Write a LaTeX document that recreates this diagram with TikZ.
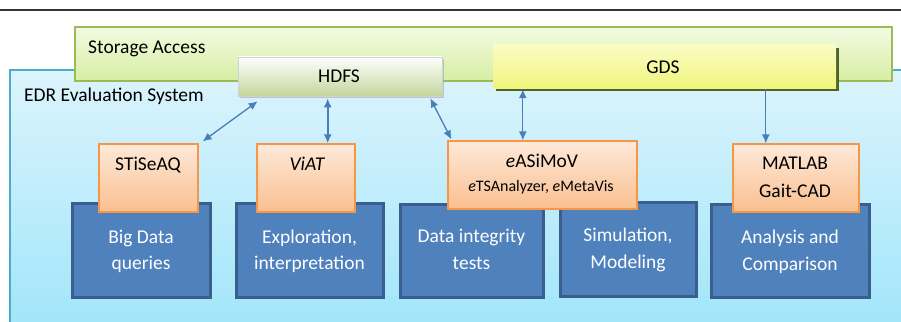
\documentclass[tikz,border=0pt]{standalone}
\usepackage{fontspec}
\setmainfont{Carlito}
\usetikzlibrary{arrows.meta,shadows,calc}

\definecolor{rulegray}{HTML}{333333}
\definecolor{edrline}{HTML}{4BACC6}
\definecolor{edrtop}{HTML}{DCF4FC}
\definecolor{edrbot}{HTML}{9EE5FA}
\definecolor{storline}{HTML}{9BBB59}
\definecolor{stortop}{HTML}{F3FBE2}
\definecolor{storbot}{HTML}{D6EEA2}
\definecolor{hdfsbot}{HTML}{C3D69B}
\definecolor{gdstop}{HTML}{FAFCC4}
\definecolor{gdsbot}{HTML}{F0F57C}
\definecolor{gdsshadow}{HTML}{4F6228}
\definecolor{blockfill}{HTML}{4F81BD}
\definecolor{blockline}{HTML}{3A5F8F}
\definecolor{tooltop}{HTML}{FDE9D9}
\definecolor{toolbot}{HTML}{FABF8F}
\definecolor{toolline}{HTML}{F79646}
\definecolor{linkcol}{HTML}{4A7EBB}

\tikzset{
  textsize/.style={font=\fontsize{19.5}{23}\selectfont},
  label text/.style={textsize, anchor=base, inner sep=0pt},
  white text/.style={label text, text=white},
  areabox/.style={rectangle, inner sep=0pt, line width=1.5pt},
  blockbox/.style={rectangle, inner sep=0pt, fill=blockfill, draw=blockline, line width=3pt},
  toolbox/.style={rectangle, inner sep=0pt, top color=tooltop, bottom color=toolbot, draw=toolline, line width=1.2pt},
  link/.style={draw=linkcol, line width=1.3pt, {Latex[length=9pt,width=8pt]}-{Latex[length=9pt,width=8pt]}},
  onelink/.style={draw=linkcol, line width=1.3pt, -{Latex[length=9pt,width=8pt]}},
}

\begin{document}
\begin{tikzpicture}[x=1pt,y=-1pt]
\useasboundingbox (0,0) rectangle (901,321);
\clip (0,0) rectangle (901,321);
\fill[white] (0,0) rectangle (901,321);

% page rule
\coordinate (ruleL) at (0,10);
\coordinate (ruleR) at (901,10);
\draw[rulegray, line width=2pt] (ruleL) -- (ruleR);

% evaluation system area
\node[areabox, top color=edrtop, bottom color=edrbot, draw=edrline,
      minimum width=900pt, minimum height=270pt] (edr) at (460,205) {};

% storage access layer
\node[areabox, top color=stortop, bottom color=storbot, draw=storline,
      minimum width=817pt, minimum height=54pt] (storage) at (483.5,54) {};
\node[label text, anchor=base west] (storagetxt) at (88,53) {Storage Access};
\node[label text, anchor=base west] (edrtxt) at (24,101) {EDR Evaluation System};

% storage back-ends
\node[rectangle, inner sep=0pt, top color=white, bottom color=hdfsbot,
      draw=gray!35, line width=0.6pt,
      drop shadow={shadow xshift=2pt, shadow yshift=-2pt, fill=gray!70, opacity=0.6},
      minimum width=204pt, minimum height=39pt] (hdfs) at (340,76.5) {};
\node[label text] (hdfstxt) at (339,82) {HDFS};

\node[rectangle, inner sep=0pt, top color=gdstop, bottom color=gdsbot,
      drop shadow={shadow xshift=3pt, shadow yshift=-3pt, fill=gdsshadow, opacity=1},
      minimum width=343pt, minimum height=43pt] (gds) at (664.5,66.5) {};
\node[label text] (gdstxt) at (663,73) {GDS};

% task blocks
\node[blockbox, minimum width=138pt, minimum height=94pt] (bigdata) at (141,250) {};
\node[white text] (bd1) at (141,243) {Big Data};
\node[white text] (bd2) at (141,269) {queries};

\node[blockbox, minimum width=147pt, minimum height=94pt] (explore) at (309.5,250) {};
\node[white text] (ex1) at (309.5,243) {Exploration,};
\node[white text] (ex2) at (309.5,269) {interpretation};

\node[blockbox, minimum width=143pt, minimum height=93pt] (integrity) at (471.5,251) {};
\node[white text] (in1) at (471.5,242) {Data integrity};
\node[white text] (in2) at (471.5,269) {tests};

\node[blockbox, minimum width=136pt, minimum height=94pt] (simul) at (628,249) {};
\node[white text] (si1) at (628,241) {Simulation,};
\node[white text] (si2) at (628,268) {Modeling};

\node[blockbox, minimum width=158pt, minimum height=93pt] (analysis) at (790,251) {};
\node[white text] (an1) at (790,243) {Analysis and};
\node[white text] (an2) at (790,270) {Comparison};

% tools
\node[toolbox, minimum width=99pt, minimum height=68pt] (stis) at (148.5,178) {};
\node[label text] (stistxt) at (148,170) {STiSeAQ};

\node[toolbox, minimum width=98pt, minimum height=68pt] (viat) at (306,178) {};
\node[label text] (viattxt) at (307,170) {\itshape ViAT};

\node[toolbox, minimum width=189pt, minimum height=68pt] (easimov) at (542.5,175) {};
\node[label text] (easimovtxt) at (542,167) {\textit{e}ASiMoV};
\node[label text, font=\fontsize{16}{19}\selectfont] (easimovsub) at (541,191)
  {\textit{e}TSAnalyzer, \textit{e}MetaVis};

\node[toolbox, minimum width=126pt, minimum height=68pt] (matlab) at (796,178) {};
\node[label text] (matlab1) at (795,169) {MATLAB};
\node[label text] (matlab2) at (795,197) {Gait-CAD};

% connectors
\draw[link] ($(stis.north east)+(4,-2)$) -- ($(hdfs.south west)+(20,5)$);
\coordinate (viatup) at ($(hdfs.south west)+(90,2)$);
\draw[link, line width=2pt] (viatup) -- (viatup |- viat.north);
\draw[link] ($(hdfs.south east)+(-12,2)$) -- ($(easimov.north west)+(4,-1)$);
\coordinate (gdsdown) at ($(gds.south west)+(30,1)$);
\draw[link] (gdsdown) -- (gdsdown |- easimov.north);
\coordinate (gdsright) at ($(gds.south west)+(273,1)$);
\draw[onelink] (gdsright) -- (gdsright |- matlab.north);
\end{tikzpicture}
\end{document}
